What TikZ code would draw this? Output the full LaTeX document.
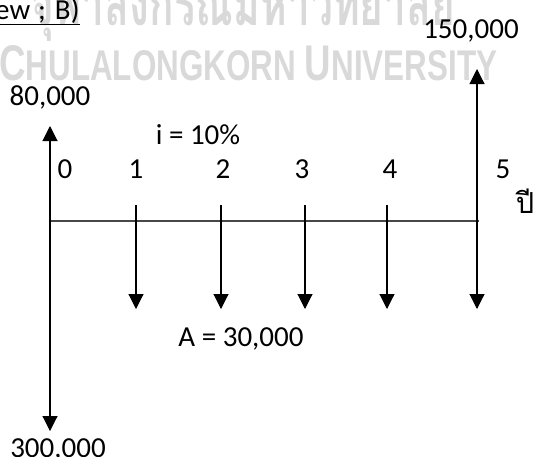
\documentclass[tikz,border=0pt]{standalone}
\usepackage{fontspec}
\usepackage{graphicx}
\setmainfont{Carlito}
\newfontfamily\thaifont[Script=Thai]{Loma}
\newfontfamily\wmfont{Liberation Sans}
\usetikzlibrary{arrows.meta}
\tikzset{
  lbl/.style={inner sep=0pt, anchor=base, font=\fontsize{29}{31}\selectfont},
  flow/.style={line width=1.1pt, draw=black, -{Triangle[width=15pt,length=15pt]}},
  flowboth/.style={line width=1.1pt, draw=black, {Triangle[width=15pt,length=15pt]}-{Triangle[width=15pt,length=15pt]}},
  axisline/.style={line width=1.6pt, draw=black!72},
  wm/.style={inner sep=0pt, text=black!15},
}
\begin{document}
\begin{tikzpicture}[x=1pt,y=-1pt]
\useasboundingbox (0,0) rectangle (537,456);
% watermark
\node[wm, anchor=base west] (wmth) at (30,25) {\scalebox{1}[1.5]{\resizebox{425pt}{!}{\thaifont\bfseries จุฬาลงกรณ์มหาวิทยาลัย}}};
\node[wm, anchor=base west] (wmen) at (-1,80) {\resizebox{498pt}{35pt}{\wmfont\bfseries\fontsize{35}{35}\selectfont C\fontsize{30}{30}\selectfont HULALONGKORN \fontsize{35}{35}\selectfont U\fontsize{30}{30}\selectfont NIVERSITY}};
\node[lbl, anchor=base west, font=\fontsize{29}{31}\selectfont] (ref) at (-5,19) {\underline{ew\hspace{8pt};\hspace{9pt}B)}};
% coordinates
\coordinate (o) at (50,221);
\coordinate (up0) at (50,126);
\coordinate (dn0) at (50,431);
\coordinate (e) at (479,221);
\coordinate (up5) at (477,69);
\coordinate (dn5) at (477,309);
\foreach \i/\x in {1/136,2/221,3/305,4/387}{
  \coordinate (s\i) at (\x,205);
  \coordinate (d\i) at (\x,309);
}
% axis
\draw[axisline] (o) -- (e);
% arrows
\draw[flow] (o) -- (up0);
\draw[flow] (o) -- (dn0);
\draw[flowboth] (dn5) -- (up5);
\foreach \i in {1,2,3,4}{\draw[flow] (s\i) -- (d\i);}
% labels
\node[lbl] (l80) at (50,105) {80,000};
\node[lbl] (l150) at (471,38) {150,000};
\node[lbl] (li) at (198,144) {i = 10\%};
\node[lbl] (n0) at (65,178.5) {0};
\node[lbl] (n1) at (136,178.5) {1};
\node[lbl] (n2) at (223,178.5) {2};
\node[lbl] (n3) at (302,178.5) {3};
\node[lbl] (n4) at (390,178.5) {4};
\node[lbl] (n5) at (503,178.5) {5};
\node[lbl] (yr) at (525,213) {\thaifont ปี};
\node[lbl] (lA) at (241,346) {A = 30,000};
\node[lbl] (l300) at (58,457) {300,000};
\end{tikzpicture}
\end{document}
